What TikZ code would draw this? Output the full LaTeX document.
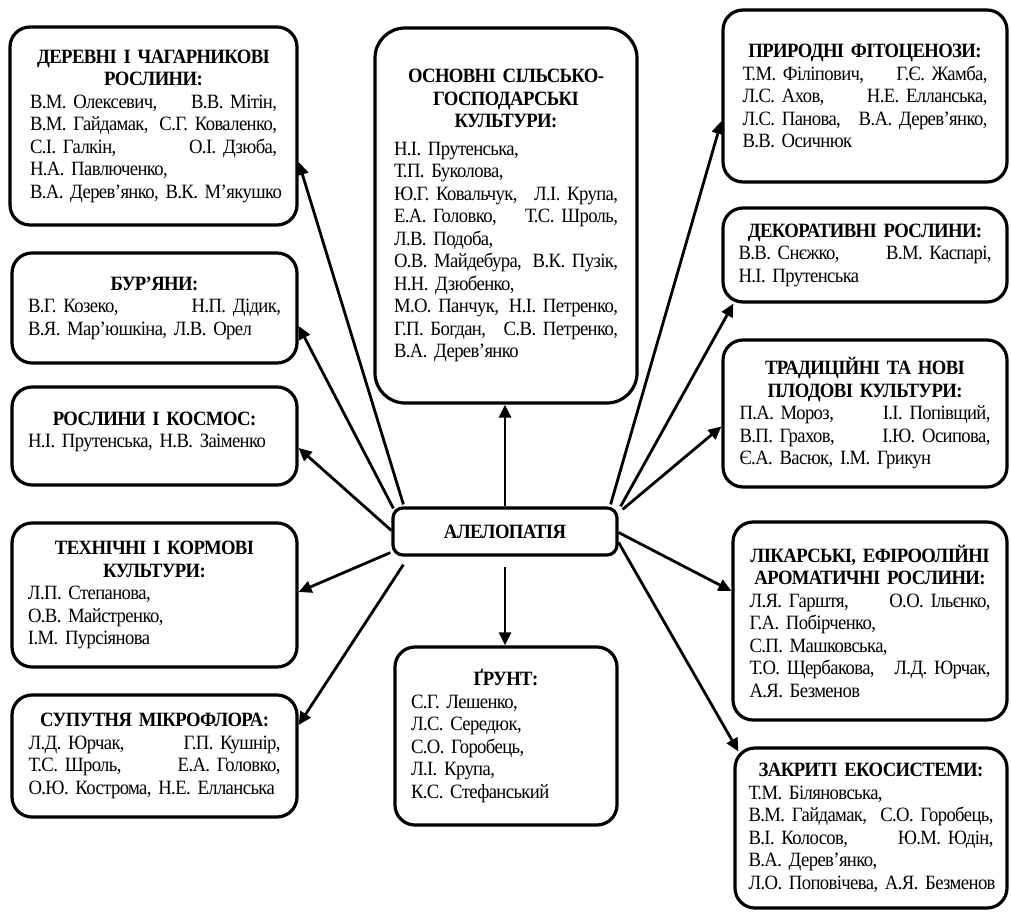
\documentclass[tikz,border=0pt]{standalone}
\usepackage{fontspec}
\setmainfont{Liberation Serif}[FakeStretch=0.92,LetterSpace=-3,WordSpace=0.75]
\usetikzlibrary{arrows.meta,calc}
\newcommand\two[2]{\hbox to\hsize{#1\hfill#2}}
\newcommand\ttl[1]{{\bfseries #1\par}}
\begin{document}
\begin{tikzpicture}[x=1pt,y=-1pt,
  box/.style={draw, line width=3.2pt, rounded corners=20pt, inner sep=0pt, align=center,
    font=\fontsize{20.3}{22.5}\selectfont},
  arr/.style={line width=2.8pt, -{Triangle[length=13pt,width=12pt]}}]
\useasboundingbox (0,0) rectangle (1011,912);

% left column
\node[box, minimum width=287pt, minimum height=198pt, text width=247pt] (der) at (153.5,126) {%
\ttl{ДЕРЕВНІ І ЧАГАРНИКОВІ\\РОСЛИНИ:}
\two{В.М. Олексевич,}{В.В. Мітін,}
\two{В.М. Гайдамак,}{С.Г. Коваленко,}
\two{С.І. Галкін,}{О.І. Дзюба,}
\two{Н.А. Павлюченко,}{}
\two{В.А. Дерев’янко, В.К. М’якушко}{}};

\node[box, minimum width=285pt, minimum height=110pt, text width=253pt] (bur) at (154.5,308) {%
\ttl{БУР’ЯНИ:}
\two{В.Г. Козеко,}{Н.П. Дідик,}
\two{В.Я. Мар’юшкіна, Л.В. Орел}{}};

\node[box, minimum width=285pt, minimum height=98pt, text width=253pt] (kos) at (154.5,436) {%
\ttl{РОСЛИНИ І КОСМОС:}
\two{Н.І. Прутенська, Н.В. Заіменко}{}\par\vspace*{8pt}\nointerlineskip\hbox{}};

\node[box, minimum width=285pt, minimum height=144pt, text width=253pt] (tex) at (154.5,595) {%
\ttl{ТЕХНІЧНІ І КОРМОВІ\\КУЛЬТУРИ:}
\two{Л.П. Степанова,}{}
\two{О.В. Майстренко,}{}
\two{І.М. Пурсіянова}{}};

\node[box, minimum width=285pt, minimum height=122pt, text width=252pt] (sup) at (154.5,756) {%
\ttl{СУПУТНЯ МІКРОФЛОРА:}
\two{Л.Д. Юрчак,}{Г.П. Кушнір,}
\two{Т.С. Шроль,}{Е.А. Головко,}
\two{О.Ю. Кострома, Н.Е. Елланська}{}};

% centre column
\node[box, rounded corners=30pt, minimum width=262pt, minimum height=375pt, text width=224pt] (osn) at (506,215.5) {%
\ttl{ОСНОВНІ СІЛЬСЬКО-\\ГОСПОДАРСЬКІ\\КУЛЬТУРИ:}\vspace{5pt}
\two{Н.І. Прутенська,}{}
\two{Т.П. Буколова,}{}
\two{Ю.Г. Ковальчук,}{Л.І. Крупа,}
\two{Е.А. Головко,}{Т.С. Шроль,}
\two{Л.В. Подоба,}{}
\two{О.В. Майдебура,}{В.К. Пузік,}
\two{Н.Н. Дзюбенко,}{}
\two{М.О. Панчук,}{Н.І. Петренко,}
\two{Г.П. Богдан,}{С.В. Петренко,}
\two{В.А. Дерев’янко}{}};

\node[box, rounded corners=10pt, minimum width=224pt, minimum height=47pt,
  font=\bfseries\fontsize{20.3}{22.5}\selectfont] (al) at (505,531.5) {АЛЕЛОПАТІЯ};

\node[box, minimum width=222pt, minimum height=178pt, text width=190pt] (gru) at (506,736) {%
\ttl{ҐРУНТ:}
\two{С.Г. Лешенко,}{}
\two{Л.С. Середюк,}{}
\two{С.О. Горобець,}{}
\two{Л.І. Крупа,}{}
\two{К.С. Стефанський}{}};

% right column
\node[box, minimum width=284pt, minimum height=172pt, text width=245pt] (pri) at (865,96) {%
\ttl{ПРИРОДНІ ФІТОЦЕНОЗИ:}
\two{Т.М. Філіпович,}{Г.Є. Жамба,}
\two{Л.С. Ахов,}{Н.Е. Елланська,}
\two{Л.С. Панова,}{В.А. Дерев’янко,}
\two{В.В. Осичнюк}{}};

\node[box, minimum width=284pt, minimum height=94pt, text width=253pt] (dek) at (865,255) {%
\ttl{ДЕКОРАТИВНІ РОСЛИНИ:}
\two{В.В. Снєжко,}{В.М. Каспарі,}
\two{Н.І. Прутенська}{}};

\node[box, minimum width=284pt, minimum height=147pt, text width=251pt] (tra) at (865,413.5) {%
\ttl{ТРАДИЦІЙНІ ТА НОВІ\\ПЛОДОВІ КУЛЬТУРИ:}
\two{П.А. Мороз,}{І.І. Попівщий,}
\two{В.П. Грахов,}{І.Ю. Осипова,}
\two{Є.А. Васюк, І.М. Грикун}{}};

\node[box, minimum width=274pt, minimum height=198pt, text width=241pt] (lik) at (870,621) {%
\ttl{ЛІКАРСЬКІ, ЕФІРООЛІЙНІ\\АРОМАТИЧНІ РОСЛИНИ:}
\two{Л.Я. Гарштя,}{О.О. Ільєнко,}
\two{Г.А. Побірченко,}{}
\two{С.П. Машковська,}{}
\two{Т.О. Щербакова,}{Л.Д. Юрчак,}
\two{А.Я. Безменов}{}};

\node[box, minimum width=272pt, minimum height=160pt, text width=245pt] (zak) at (871,828) {%
\ttl{ЗАКРИТІ ЕКОСИСТЕМИ:}
\two{Т.М. Біляновська,}{}
\two{В.М. Гайдамак,}{С.О. Горобець,}
\two{В.І. Колосов,}{Ю.М. Юдін,}
\two{В.А. Дерев’янко,}{}
\two{Л.О. Поповічева, А.Я. Безменов}{}};

% connectors
\draw[arr] (al.north) -- (al.north |- osn.south);
\draw[arr] ($(al.south)+(0,10)$) -- (al.south |- gru.north);
\draw[arr] ($(al.north west)+(12,-2)$) -- ($(der.east)+(0,36)$);
\draw[arr] ($(al.north west)+(2,2)$) -- ($(bur.east)+(0,18)$);
\draw[arr] ($(al.west)+(0,-1)$) -- ($(kos.east)+(0,12)$);
\draw[arr] ($(al.south west)+(-1,-4)$) -- ($(tex.east)+(0,-3)$);
\draw[arr] ($(al.south west)+(12,8)$) -- ($(sup.east)+(0,-31)$);
\draw[arr] ($(al.north east)+(-8,-2)$) -- ($(pri.west)+(0,25)$);
\draw[arr] ($(al.north east)+(2,0)$) -- ($(dek.south west)+(12,0)$);
\draw[arr] ($(al.north east)+(4,3)$) -- ($(tra.west)+(0,13)$);
\draw[arr] ($(al.east)+(0,1)$) -- ($(lik.west)+(0,-30)$);
\draw[arr] ($(al.east)+(0,11)$) -- ($(zak.north west)+(5,5)$);
\end{tikzpicture}
\end{document}
